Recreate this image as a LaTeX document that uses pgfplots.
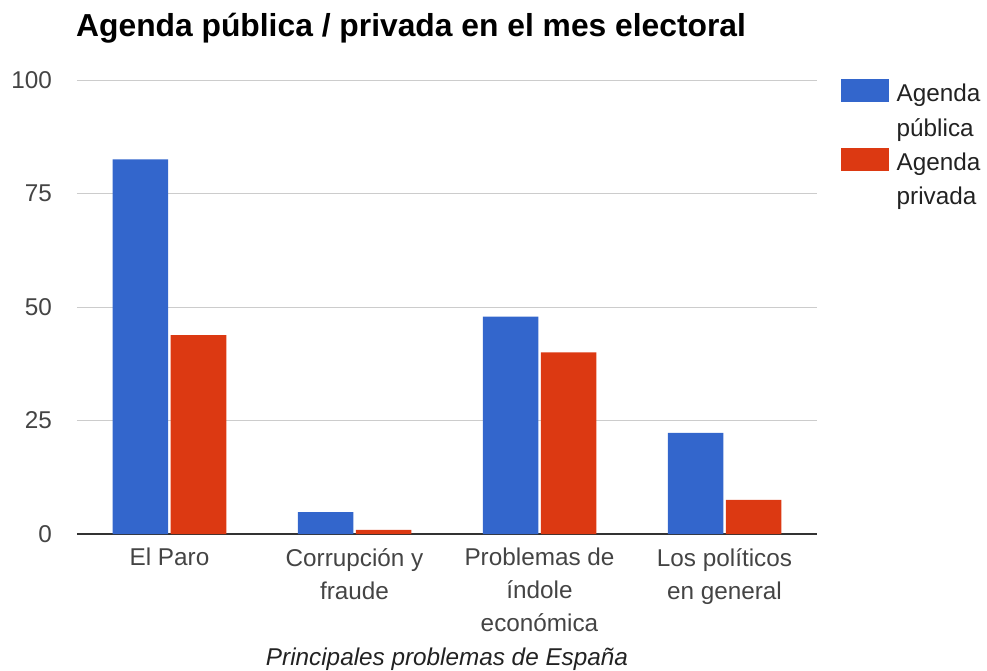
\documentclass[border=0pt]{standalone}
\usepackage{pgfplots}
\pgfplotsset{compat=1.18}
\usepackage{fontspec}
\setmainfont{Liberation Sans}
\definecolor{gblue}{HTML}{3366CC}
\definecolor{gred}{HTML}{DC3912}
\definecolor{gridc}{HTML}{CCCCCC}
\definecolor{axisc}{HTML}{333333}
\definecolor{tickc}{HTML}{444444}
\definecolor{legc}{HTML}{222222}
\newcommand\fs{\fontsize{24.3}{33}\selectfont}
\begin{document}
\begin{tikzpicture}
\path[use as bounding box] (-77pt,-136pt) rectangle (910pt,534pt);
\begin{axis}[
  at={(0pt,0pt)}, anchor=south west,
  scale only axis, width=740pt, height=454pt,
  xmin=-0.5, xmax=3.5, ymin=0, ymax=100,
  ybar=2.5pt, bar width=55.5pt,
  xtick=data,
  xticklabels={El Paro,{Corrupción y\\fraude},{Problemas de\\índole\\económica},{Los políticos\\en general}},
  ytick={0,25,50,75,100},
  ymajorgrids, grid style={gridc, line width=1pt},
  axis x line*=bottom, axis y line*=left,
  y axis line style={draw=none},
  x axis line style={axisc, line width=1.5pt},
  major tick length=0pt,
  tick label style={font=\fs, text=tickc},
  /pgf/number format/assume math mode=true,
  yticklabel style={inner sep=0pt, anchor=east, xshift=-25pt},
  xticklabel style={align=center, inner sep=0pt, anchor=north, yshift=-14pt},
  title={Agenda pública / privada en el mes electoral},
  title style={at={(axis description cs:0,1)}, anchor=base west, yshift=37pt, xshift=-1pt,
    font=\fontsize{31.8}{38}\selectfont\bfseries, inner sep=0pt},
  xlabel={Principales problemas de España},
  xlabel style={at={(axis description cs:0.5,0)}, anchor=base, yshift=-131pt,
    font=\fs\itshape, text=legc, inner sep=0pt},
  legend style={at={(axis description cs:1,1)}, anchor=north west, xshift=24pt, yshift=-3.7pt,
    draw=none, fill=none, inner sep=0pt, outer sep=0pt, row sep=10.4pt, column sep=7.7pt,
    font=\fs, text=legc, cells={anchor=base west},
    nodes={inner sep=0pt, text height=18pt, text depth=6pt}},
  legend image code/.code={\fill[#1, overlay] (0pt,-0.6pt) rectangle (48pt,22.4pt); \path (0pt,0pt) (48pt,1pt);},
]
\addplot[fill=gblue, draw=none] coordinates {(0,82.5) (1,4.8) (2,47.9) (3,22.3)};
\addlegendentry{Agenda}
\addlegendimage{empty legend}
\addlegendentry{pública}
\addplot[fill=gred, draw=none] coordinates {(0,43.8) (1,0.9) (2,40.0) (3,7.5)};
\addlegendentry{Agenda}
\addlegendimage{empty legend}
\addlegendentry{privada}
\end{axis}
\end{tikzpicture}
\end{document}
